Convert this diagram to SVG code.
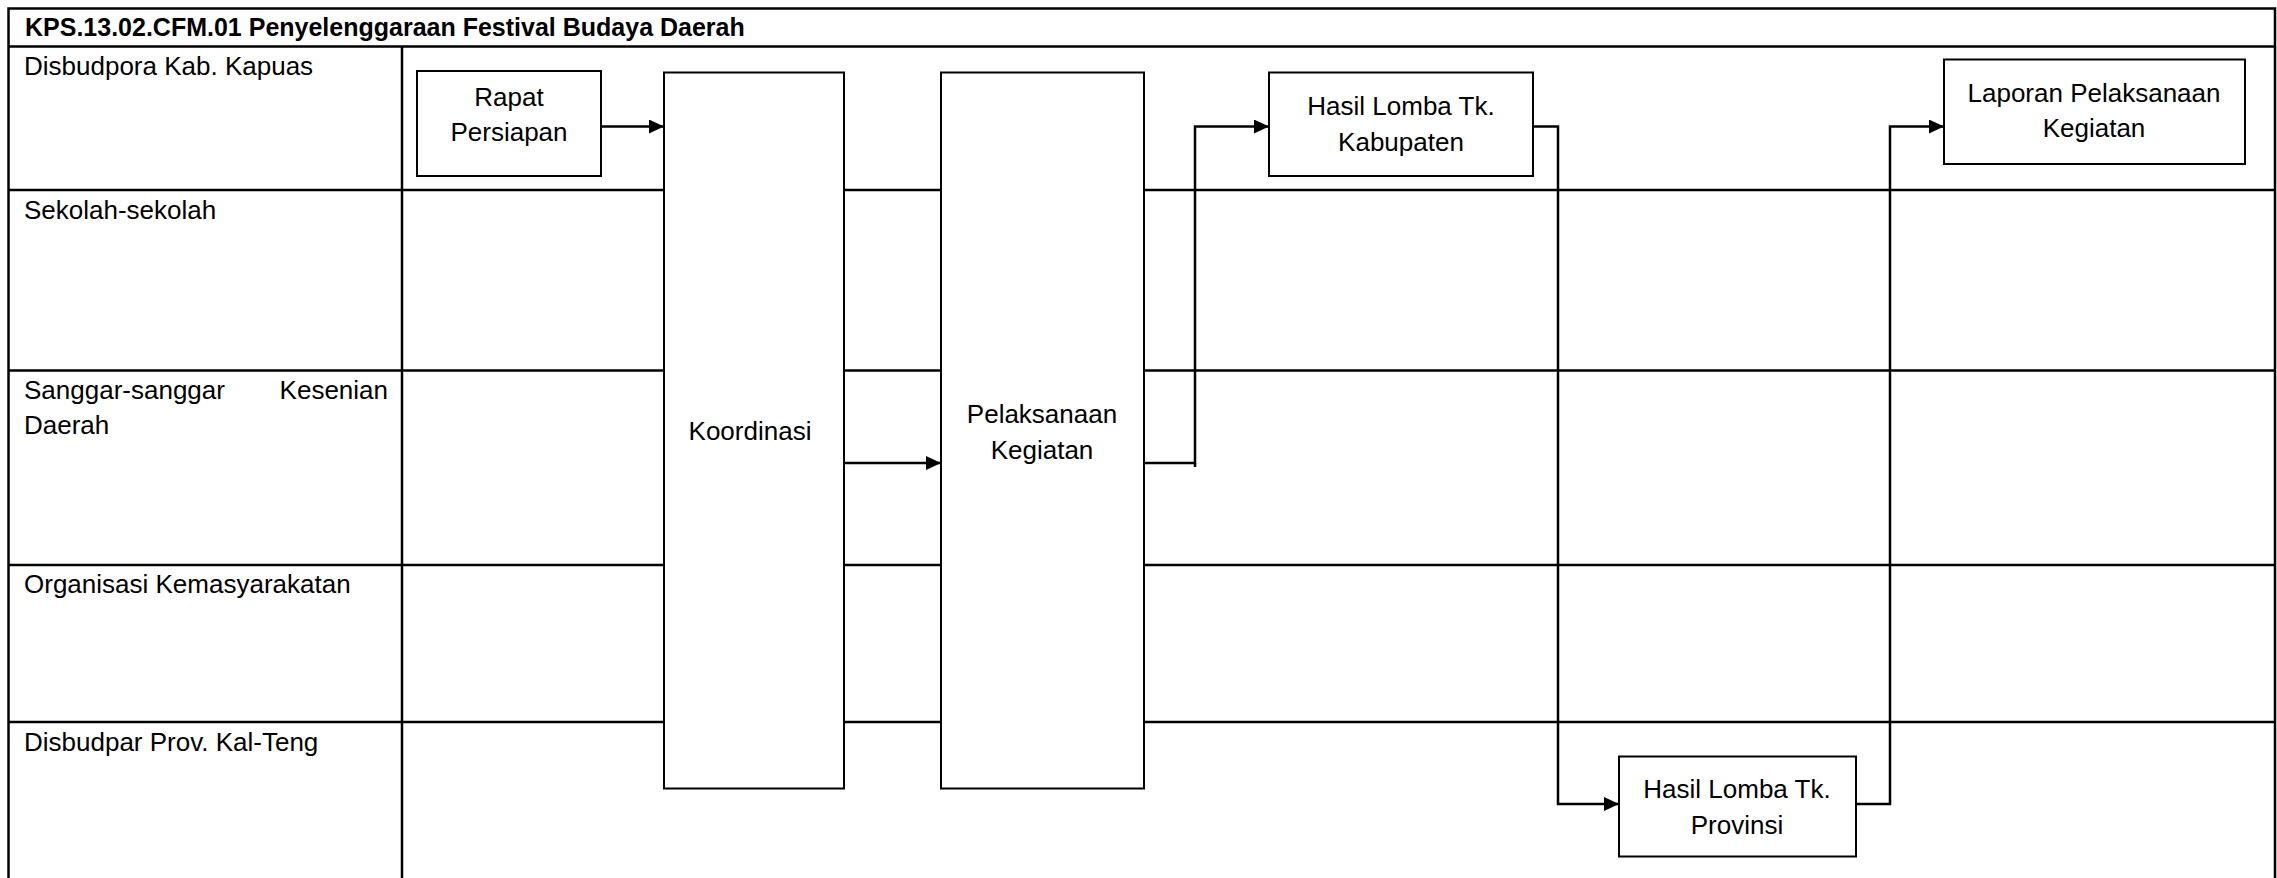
<svg xmlns="http://www.w3.org/2000/svg" width="2277" height="878" viewBox="0 0 2277 878">
<style>
.grid{stroke:#000;stroke-width:2.5;fill:none}
.box{fill:#fff;stroke:#000;stroke-width:2}
.t{font-family:"Liberation Sans",Arial,sans-serif;font-size:26px;fill:#000}
.c{text-anchor:middle}
.e{text-anchor:end}
.title{font-weight:bold;font-size:25px}
.conn{fill:none;stroke:#000;stroke-width:2.5}
</style>
<defs>
<marker id="arr" markerWidth="15" markerHeight="14" refX="15" refY="7" orient="auto" markerUnits="userSpaceOnUse"><path d="M0,0 L15,7 L0,14 Z" fill="#000"/></marker>
</defs>
<rect width="2277" height="878" fill="#fff"/>
<g id="grid">
<path class="grid" d="M8.5,878 V8.5 H2275 V878"/>
<path class="grid" d="M8.5,46.5 H2275 M402,46.5 V878 M8.5,190 H2275 M8.5,370.5 H2275 M8.5,565 H2275 M8.5,722 H2275"/>
<text class="t title" x="25" y="36">KPS.13.02.CFM.01 Penyelenggaraan Festival Budaya Daerah</text>
<text class="t" x="24" y="75">Disbudpora Kab. Kapuas</text>
<text class="t" x="24" y="219">Sekolah-sekolah</text>
<text class="t" x="24" y="399">Sanggar-sanggar</text>
<text class="t e" x="388" y="399">Kesenian</text>
<text class="t" x="24" y="434">Daerah</text>
<text class="t" x="24" y="593">Organisasi Kemasyarakatan</text>
<text class="t" x="24" y="751">Disbudpar Prov. Kal-Teng</text>
</g>
<g id="connectors">
<path class="conn" d="M601,126.5 H664" marker-end="url(#arr)"/>
<path class="conn" d="M844,463 H941" marker-end="url(#arr)"/>
<path class="conn" d="M1144,463 H1195 V126.5 H1269" marker-end="url(#arr)"/>
<path class="conn" d="M1195,463 V467"/>
<path class="conn" d="M1533,126.5 H1558 V804 H1619" marker-end="url(#arr)"/>
<path class="conn" d="M1856,804 H1890 V126.5 H1944" marker-end="url(#arr)"/>
</g>
<g id="rapat">
<rect class="box" x="417" y="71" width="184" height="105"/>
<text class="t c" x="509" y="106">Rapat</text>
<text class="t c" x="509" y="141">Persiapan</text>
</g>
<g id="koordinasi">
<rect class="box" x="664" y="72.5" width="180" height="716"/>
<text class="t c" x="750" y="440">Koordinasi</text>
</g>
<g id="pelaksanaan">
<rect class="box" x="941" y="72.5" width="203" height="716"/>
<text class="t c" x="1042" y="423">Pelaksanaan</text>
<text class="t c" x="1042" y="459">Kegiatan</text>
</g>
<g id="hasil-kab">
<rect class="box" x="1269" y="72.5" width="264" height="103.5"/>
<text class="t c" x="1401" y="115">Hasil Lomba Tk.</text>
<text class="t c" x="1401" y="151">Kabupaten</text>
</g>
<g id="laporan">
<rect class="box" x="1944" y="59.5" width="301" height="104.5"/>
<text class="t c" x="2094" y="102">Laporan Pelaksanaan</text>
<text class="t c" x="2094" y="137">Kegiatan</text>
</g>
<g id="hasil-prov">
<rect class="box" x="1619" y="756.5" width="237" height="100"/>
<text class="t c" x="1737" y="798">Hasil Lomba Tk.</text>
<text class="t c" x="1737" y="834">Provinsi</text>
</g>
</svg>
